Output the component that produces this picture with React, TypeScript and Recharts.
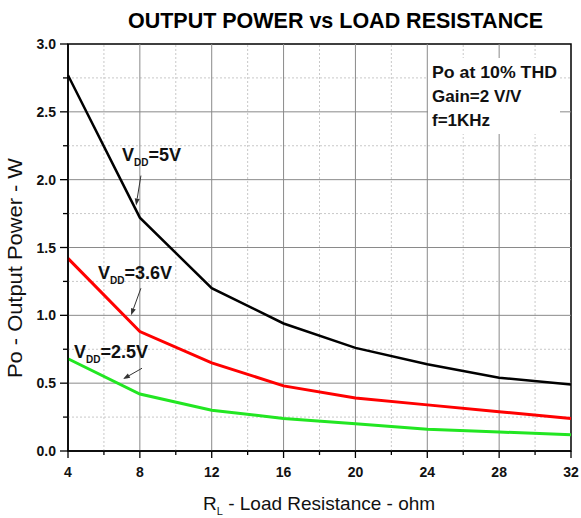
import React from 'react';
import { LineChart, Line, XAxis, YAxis, ReferenceLine, ReferenceArea } from 'recharts';

const loadOhm = [4, 8, 12, 16, 20, 24, 28, 32];
const vdd5 = [2.77, 1.72, 1.2, 0.94, 0.76, 0.64, 0.54, 0.49];
const vdd36 = [1.42, 0.88, 0.65, 0.48, 0.39, 0.34, 0.29, 0.24];
const vdd25 = [0.68, 0.42, 0.3, 0.24, 0.2, 0.16, 0.14, 0.12];

const xMajor = [4, 8, 12, 16, 20, 24, 28, 32];
const xMinor = [6, 10, 14, 18, 22, 26, 30];
const yMajor = [0, 0.5, 1.0, 1.5, 2.0, 2.5, 3.0];
const yMinor = [0.25, 0.75, 1.25, 1.75, 2.25, 2.75];

const data = loadOhm.map((r, i) => ({ r, v5: vdd5[i], v36: vdd36[i], v25: vdd25[i] }));

const FONT = '"Liberation Sans", Arial, sans-serif';

const arrows = [
  { from: { x: 8.06, y: 2.03 }, to: { x: 7.79, y: 1.81 } },
  { from: { x: 8.06, y: 1.2 }, to: { x: 7.51, y: 1.0 } },
  { from: { x: 8.12, y: 0.61 }, to: { x: 7.06, y: 0.53 } },
];

const ArrowShape = (props: any) => {
  const { x1, y1, x2, y2 } = props;
  if (x1 == null || x2 == null) return null;
  const ang = Math.atan2(y2 - y1, x2 - x1);
  const len = 7;
  const w = 2.5;
  const bx = x2 - len * Math.cos(ang);
  const by = y2 - len * Math.sin(ang);
  const px = -Math.sin(ang) * w;
  const py = Math.cos(ang) * w;
  return (
    <g>
      <line x1={x1} y1={y1} x2={bx} y2={by} stroke="#333" strokeWidth={1} />
      <polygon points={`${x2},${y2} ${bx + px},${by + py} ${bx - px},${by - py}`} fill="#333" />
    </g>
  );
};

const YTick = (props: any) => {
  const { x, y, payload } = props;
  const v = payload.value;
  const major = Math.abs(v * 2 - Math.round(v * 2)) < 1e-6;
  return (
    <g>
      <line x1={x - (major ? 8 : 5)} y1={y} x2={x} y2={y} stroke="#000" strokeWidth={1.3} />
      {major && (
        <text x={x - 12} y={y + 5} textAnchor="end" fontFamily={FONT} fontWeight="bold" fontSize={14} fill="#111">
          {v.toFixed(1)}
        </text>
      )}
    </g>
  );
};

const XTick = (props: any) => {
  const { x, y, payload } = props;
  const v = payload.value;
  const major = v % 4 === 0;
  return (
    <g>
      <line x1={x} y1={y} x2={x} y2={y + (major ? 7 : 4)} stroke="#000" strokeWidth={1.3} />
      {major && (
        <text x={x} y={y + 26} textAnchor="middle" fontFamily={FONT} fontWeight="bold" fontSize={14} fill="#111">
          {v}
        </text>
      )}
    </g>
  );
};

export default function App() {
  return (
    <div style={{ position: 'absolute', left: 0, top: 0, width: 581, height: 518, background: '#fff' }}>
      <LineChart
        width={581}
        height={518}
        data={data}
        margin={{ top: 44, right: 10, left: 0, bottom: 0 }}
      >
        <XAxis
          dataKey="r"
          type="number"
          domain={[4, 32]}
          ticks={[...xMajor, ...xMinor].sort((a, b) => a - b)}
          interval={0}
          tickSize={0}
          tickMargin={0}
          tickLine={false}
          height={67}
          axisLine={{ stroke: '#000', strokeWidth: 1.5 }}
          tick={<XTick />}
        />
        <YAxis
          type="number"
          domain={[0, 3]}
          ticks={[...yMajor, ...yMinor].sort((a, b) => a - b)}
          interval={0}
          tickSize={0}
          tickMargin={0}
          tickLine={false}
          width={68}
          axisLine={{ stroke: '#000', strokeWidth: 1.5 }}
          tick={<YTick />}
        />
        {xMinor.map((v) => (
          <ReferenceLine key={'xm' + v} x={v} stroke="#c8c8c8" strokeWidth={1} strokeDasharray="2 2" />
        ))}
        {yMinor.map((v) => (
          <ReferenceLine key={'ym' + v} y={v} stroke="#c8c8c8" strokeWidth={1} strokeDasharray="2 2" />
        ))}
        {xMajor.slice(1, -1).map((v) => (
          <ReferenceLine key={'xM' + v} x={v} stroke="#8a8a8a" strokeWidth={1} />
        ))}
        {yMajor.slice(1, -1).map((v) => (
          <ReferenceLine key={'yM' + v} y={v} stroke="#8a8a8a" strokeWidth={1} />
        ))}
        <ReferenceArea x1={4} x2={32} y1={0} y2={3} fill="none" stroke="#000" strokeWidth={1.5} fillOpacity={0} />
        <Line type="linear" dataKey="v5" stroke="#000000" strokeWidth={2.5} dot={false} isAnimationActive={false} />
        <Line type="linear" dataKey="v36" stroke="#ff0000" strokeWidth={3} dot={false} isAnimationActive={false} />
        <Line type="linear" dataKey="v25" stroke="#22e622" strokeWidth={3} dot={false} isAnimationActive={false} />
        {arrows.map((a, i) => (
          <ReferenceLine
            key={'ar' + i}
            segment={[a.from, a.to]}
            shape={<ArrowShape />}
          />
        ))}
      </LineChart>
      <svg
        width={581}
        height={518}
        style={{ position: 'absolute', left: 0, top: 0, pointerEvents: 'none' }}
        fontFamily={FONT}
      >
        <text x={128} y={28} fontWeight="bold" fontSize={22} fill="#000" textLength={415} lengthAdjust="spacingAndGlyphs">
          OUTPUT POWER vs LOAD RESISTANCE
        </text>
        <text
          x={22}
          y={268}
          textAnchor="middle"
          fontSize={20}
          fill="#111"
          transform="rotate(-90 22 268)"
          textLength={220}
          lengthAdjust="spacingAndGlyphs"
        >
          Po - Output Power - W
        </text>
        <text x={203} y={510} fontSize={19} fill="#111">
          R<tspan fontSize={11} dy={5}>L</tspan>
          <tspan dy={-5}> - Load Resistance - ohm</tspan>
        </text>
        <rect x={428} y={58} width={132} height={76} fill="#fff" />
        <text x={432} y={78} fontSize={17} fontWeight="bold" fill="#111" textLength={125} lengthAdjust="spacingAndGlyphs">Po at 10% THD</text>
        <text x={432} y={102} fontSize={17} fontWeight="bold" fill="#111">Gain=2 V/V</text>
        <text x={432} y={126} fontSize={17} fontWeight="bold" fill="#111">f=1KHz</text>
        <text x={122} y={161} fontSize={18} fontWeight="bold" fill="#111">
          V<tspan fontSize={10} dy={5}>DD</tspan>
          <tspan dy={-5}>=5V</tspan>
        </text>
        <text x={98} y={279} fontSize={18} fontWeight="bold" fill="#111">
          V<tspan fontSize={10} dy={5}>DD</tspan>
          <tspan dy={-5}>=3.6V</tspan>
        </text>
        <text x={74} y={358} fontSize={18} fontWeight="bold" fill="#111">
          V<tspan fontSize={10} dy={5}>DD</tspan>
          <tspan dy={-5}>=2.5V</tspan>
        </text>
      </svg>
    </div>
  );
}
